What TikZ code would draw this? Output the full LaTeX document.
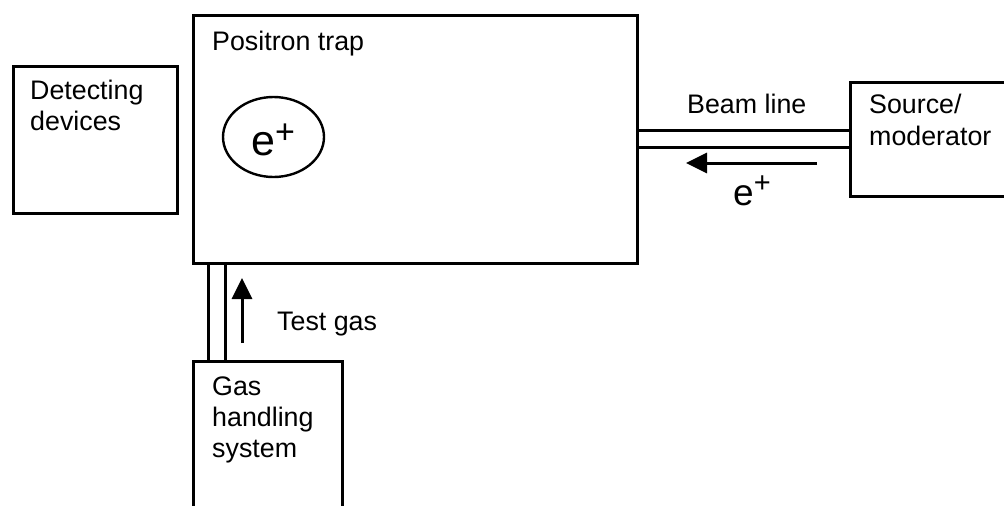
\documentclass[tikz,border=0pt]{standalone}
\usepackage{fontspec}
\setmainfont{Liberation Sans}
\usetikzlibrary{arrows.meta,shapes.geometric}

% positron symbol: e with a raised plus sign (raise, size of the plus)
\newcommand\posisym[2]{e\raisebox{#1}{\fontsize{#2}{#2}\selectfont +}}

\begin{document}
\begin{tikzpicture}[x=1pt,y=-1pt,
  box/.style={draw,line width=3pt,anchor=north west,inner sep=0pt},
  wall/.style={line width=3pt},
  label/.style={anchor=base west,inner sep=0pt,font=\fontsize{26.8}{31}\selectfont},
  bigcloud/.style={anchor=base west,inner sep=0pt,font=\fontsize{43}{46}\selectfont},
  bigbeam/.style={anchor=base west,inner sep=0pt,font=\fontsize{37}{40}\selectfont},
  flow/.style={line width=3pt,-{Triangle[length=21pt,width=20pt]}}]
  \useasboundingbox (0,0) rectangle (1004,506);

  % main boxes
  \node[box,minimum width=444pt,minimum height=248pt] (trap) at (192,14) {};
  \node[box,minimum width=164pt,minimum height=147pt] (det) at (12,65) {};
  \node[box,minimum width=200pt,minimum height=114pt] (src) at (849,81) {};
  \node[box,minimum width=149pt,minimum height=180pt] (gas) at (192,360) {};

  % positron cloud in the trap
  \node[draw,ellipse,line width=2.4pt,minimum width=101pt,minimum height=80pt,inner sep=0pt] (cloud) at (273.5,137) {};

  % beam line tube between trap and source
  \coordinate (b1) at (636,130);
  \coordinate (b2) at (849,130);
  \coordinate (b3) at (636,147);
  \coordinate (b4) at (849,147);
  \draw[wall] (b1) -- (b2);
  \draw[wall] (b3) -- (b4);

  % gas feed tube between gas system and trap
  \coordinate (g1) at (208,262);
  \coordinate (g2) at (208,360);
  \coordinate (g3) at (225,262);
  \coordinate (g4) at (225,360);
  \draw[wall] (g1) -- (g2);
  \draw[wall] (g3) -- (g4);

  % flow arrows
  \coordinate (pa) at (817,163);
  \coordinate (pb) at (686,163);
  \draw[flow] (pa) -- (pb);
  \coordinate (ga) at (242,343);
  \coordinate (gb) at (242,278);
  \draw[flow] (ga) -- (gb);

  % labels
  \node[label] (ltrap) at (212,50) {Positron trap};
  \node[label] (ldet1) at (30,99) {Detecting};
  \node[label] (ldet2) at (30,130) {devices};
  \node[label] (lbeam) at (687,113) {Beam line};
  \node[label] (lsrc1) at (869,113) {Source/};
  \node[label] (lsrc2) at (869,145) {moderator};
  \node[label] (ltest) at (277,330) {Test gas};
  \node[label] (lgas1) at (212,395) {Gas};
  \node[label] (lgas2) at (212,426) {handling};
  \node[label] (lgas3) at (212,457) {system};
  \node[bigcloud] (ecloud) at (251,155) {\posisym{12pt}{34}};
  \node[bigbeam] (ebeam) at (733,205) {\posisym{13pt}{29}};
\end{tikzpicture}
\end{document}
